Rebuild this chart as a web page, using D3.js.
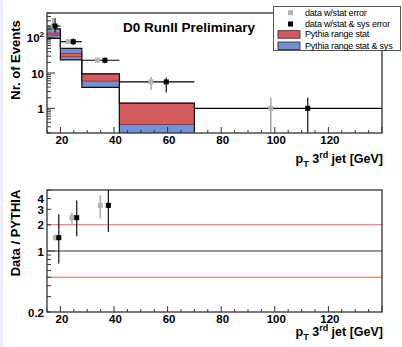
<!DOCTYPE html>
<meta charset="utf-8">
<script src="https://d3js.org/d3.v7.min.js"></script>
<style>
  body { margin: 0; background: #fff; }
  text { font-family: "Liberation Sans", Arial, sans-serif; }
</style>
<div id="chart"></div>
<script>
// bins of pT of the 3rd jet
const binEdges = [15, 20, 28, 42, 70, 140];

// data points (gray = stat only, black = stat & sys), drawn slightly apart
const dataXStat = [17.2, 22.9, 33.8, 53.8, 98.5];
const dataXSys = [18.0, 24.8, 36.6, 59.5, 112.3];
const dataY = [214, 77, 23, 5.6, 1.0];
const statLo = [140, 68, 20, 3.3, 0.05];
const statHi = [360, 88, 26, 7.7, 2.0];
const sysLo = [140, 62, 19, 2.8, 0.05];
const sysHi = [360, 95, 27, 7.5, 2.0];

// pythia ranges per bin
const blueLo = [96, 23.4, 3.9, 0.1, 0.02];
const blueHi = [177, 50, 9.4, 1.4, 0.1];
const redLo = [118, 29, 5.9, 0.35, 0.03];
const redHi = [135, 36, 9.4, 1.4, 0.08];

// ratio data / pythia
const ratioXStat = [18.2, 24.3, 34.9];
const ratioXSys = [19.4, 26.1, 37.9];
const ratioY = [1.42, 2.41, 3.33];
const ratioStatLo = [1.33, 2.07, 2.36];
const ratioStatHi = [1.55, 2.77, 4.33];
const ratioSysLo = [0.72, 1.48, 1.65];
const ratioSysHi = [2.63, 3.8, 6];
const ratioLines = [0.5, 1, 2];

const topTicks = [1, 10, 100];
const ratioTicks = [0.2, 1, 2, 3, 4];
const xTicks = [20, 40, 60, 80, 100, 120];

const W = 402, H = 347;
const L = 47, R = 382;
const svg = d3.select("#chart").append("svg").attr("width", W).attr("height", H);

svg.append("rect").attr("x", 0).attr("y", 0).attr("width", 3).attr("height", H).attr("fill", "#eeeef8");

const x = d3.scaleLinear().domain([15, 140]).range([L, R]);
const yTop = d3.scaleLog().domain([0.2, 500]).range([133, 13]);
const yBot = d3.scaleLog().domain([0.2, 5]).range([312, 190]);

const blue = "#7192d2", red = "#d45c60";

function clip(id, y0, y1) {
  svg.append("clipPath").attr("id", id).append("rect")
    .attr("x", L).attr("y", y0).attr("width", R - L).attr("height", y1 - y0);
}
clip("cTop", 13, 133);
clip("cBot", 190, 312);

// ---------- top pad ----------
const gTop = svg.append("g").attr("clip-path", "url(#cTop)");
const bins = d3.range(binEdges.length - 1);

gTop.selectAll(".blue").data(bins).join("rect")
  .attr("x", i => x(binEdges[i])).attr("width", i => x(binEdges[i + 1]) - x(binEdges[i]))
  .attr("y", i => yTop(blueHi[i])).attr("height", i => yTop(blueLo[i]) - yTop(blueHi[i]))
  .attr("fill", blue);
gTop.selectAll(".red").data(bins).join("rect")
  .attr("x", i => x(binEdges[i])).attr("width", i => x(binEdges[i + 1]) - x(binEdges[i]))
  .attr("y", i => yTop(redHi[i])).attr("height", i => yTop(redLo[i]) - yTop(redHi[i]))
  .attr("fill", red).attr("stroke", "#9a2a30").attr("stroke-width", 0.8);

function stepPts(vals) {
  const pts = [];
  bins.forEach(i => { pts.push([binEdges[i], vals[i]]); pts.push([binEdges[i + 1], vals[i]]); });
  return pts;
}
const stepLine = d3.line().x(d => x(d[0])).y(d => yTop(d[1]));
[blueHi, blueLo].forEach(v => {
  gTop.append("path").attr("d", stepLine(stepPts(v)))
    .attr("fill", "none").attr("stroke", "#111").attr("stroke-width", 1.2);
});

// x error bars
gTop.selectAll(".xerr").data(bins).join("line")
  .attr("x1", i => x(binEdges[i])).attr("x2", i => x(binEdges[i + 1]))
  .attr("y1", i => yTop(dataY[i])).attr("y2", i => yTop(dataY[i]))
  .attr("stroke", "#000").attr("stroke-width", 1.2);
// gray points
gTop.selectAll(".gerr").data(bins).join("line")
  .attr("x1", i => x(dataXStat[i])).attr("x2", i => x(dataXStat[i]))
  .attr("y1", i => yTop(statLo[i])).attr("y2", i => yTop(statHi[i]))
  .attr("stroke", "#aaa").attr("stroke-width", 1.6);
gTop.selectAll(".gpt").data(bins).join("rect")
  .attr("x", i => x(dataXStat[i]) - 2.5).attr("y", i => yTop(dataY[i]) - 2.5)
  .attr("width", 5).attr("height", 5).attr("fill", "#b4b4b4");
// black points
gTop.selectAll(".berr").data(bins).join("line")
  .attr("x1", i => x(dataXSys[i])).attr("x2", i => x(dataXSys[i]))
  .attr("y1", i => yTop(sysLo[i])).attr("y2", i => yTop(sysHi[i]))
  .attr("stroke", "#111").attr("stroke-width", 1.2);
gTop.selectAll(".bpt").data(bins).join("rect")
  .attr("x", i => x(dataXSys[i]) - 2.5).attr("y", i => yTop(dataY[i]) - 2.5)
  .attr("width", 5).attr("height", 5).attr("fill", "#000");

// ---------- bottom pad ----------
const gBot = svg.append("g").attr("clip-path", "url(#cBot)");
gBot.selectAll(".rl").data(ratioLines).join("line")
  .attr("x1", L).attr("x2", R).attr("y1", d => yBot(d)).attr("y2", d => yBot(d))
  .attr("stroke", d => d === 1 ? "#333" : "#e06464").attr("stroke-width", d => d === 1 ? 1.1 : 1.2);
const rIdx = d3.range(ratioY.length);
gBot.selectAll(".rg").data(rIdx).join("line")
  .attr("x1", i => x(ratioXStat[i])).attr("x2", i => x(ratioXStat[i]))
  .attr("y1", i => yBot(ratioStatLo[i])).attr("y2", i => yBot(ratioStatHi[i]))
  .attr("stroke", "#aaa").attr("stroke-width", 1.6);
gBot.selectAll(".rgp").data(rIdx).join("rect")
  .attr("x", i => x(ratioXStat[i]) - 2.5).attr("y", i => yBot(ratioY[i]) - 2.5)
  .attr("width", 5).attr("height", 5).attr("fill", "#b4b4b4");
gBot.selectAll(".rb").data(rIdx).join("line")
  .attr("x1", i => x(ratioXSys[i])).attr("x2", i => x(ratioXSys[i]))
  .attr("y1", i => yBot(ratioSysLo[i])).attr("y2", i => yBot(ratioSysHi[i]))
  .attr("stroke", "#111").attr("stroke-width", 1.2);
gBot.selectAll(".rbp").data(rIdx).join("rect")
  .attr("x", i => x(ratioXSys[i]) - 2.5).attr("y", i => yBot(ratioY[i]) - 2.5)
  .attr("width", 5).attr("height", 5).attr("fill", "#000");

// ---------- frames and axes ----------
function frame(y0, y1) {
  svg.append("rect").attr("x", L).attr("y", y0).attr("width", R - L).attr("height", y1 - y0)
    .attr("fill", "none").attr("stroke", "#333").attr("stroke-width", 1.3);
}
frame(13, 133);
frame(190, 312);

function xAxis(yb, labOff, titleOff) {
  const minor = d3.range(15, 140.1, 5);
  svg.append("g").selectAll("line").data(minor).join("line")
    .attr("x1", d => x(d)).attr("x2", d => x(d))
    .attr("y1", yb).attr("y2", d => yb - (d % 20 === 0 ? 6 : 3))
    .attr("stroke", "#333").attr("stroke-width", 1);
  svg.append("g").selectAll("text").data(xTicks).join("text")
    .attr("x", d => x(d) + 1.5).attr("y", yb + labOff)
    .attr("text-anchor", "middle").attr("font-size", 11.5).attr("font-weight", "bold")
    .text(d => d);
  const t = svg.append("text").attr("x", 383).attr("y", yb + titleOff)
    .attr("text-anchor", "end").attr("font-size", 12.5).attr("font-weight", "bold");
  t.append("tspan").text("p");
  t.append("tspan").attr("dy", 4).attr("font-size", 9).text("T");
  t.append("tspan").attr("dy", -4).text(" 3");
  t.append("tspan").attr("dy", -5).attr("font-size", 9).text("rd");
  t.append("tspan").attr("dy", 5).text(" jet [GeV]");
}
xAxis(133, 11, 30);
xAxis(312, 10.5, 24);

function yTicksLog(scale, lo, hi, majors) {
  const all = [];
  for (let e = -1; e <= 3; e++) for (let m = 1; m <= 9; m++) {
    const v = m * Math.pow(10, e);
    if (v >= lo - 1e-9 && v <= hi + 1e-9) all.push(v);
  }
  svg.append("g").selectAll("line").data(all).join("line")
    .attr("x1", L).attr("x2", d => L + (majors.includes(d) ? 8 : 4))
    .attr("y1", d => scale(d)).attr("y2", d => scale(d))
    .attr("stroke", "#333").attr("stroke-width", 1);
}
yTicksLog(yTop, 0.2, 500, [1, 10, 100]);
yTicksLog(yBot, 0.2, 5, [1]);

svg.append("g").selectAll("text").data(topTicks).join("text")
  .attr("x", 44).attr("y", d => yTop(d) + 4.5).attr("text-anchor", "end")
  .attr("font-size", 11.5).attr("font-weight", "bold")
  .each(function (d) {
    const t = d3.select(this);
    if (d === 100) {
      t.append("tspan").text("10");
      t.append("tspan").attr("dy", -5).attr("font-size", 8).text("2");
    } else t.text(d);
  });
svg.append("g").selectAll("text").data(ratioTicks).join("text")
  .attr("x", 44).attr("y", d => yBot(d) + 4.5).attr("text-anchor", "end")
  .attr("font-size", 11.5).attr("font-weight", "bold")
  .text(d => d);

svg.append("text").attr("transform", "translate(20,60) rotate(-90)")
  .attr("text-anchor", "middle").attr("font-size", 13).attr("font-weight", "bold")
  .text("Nr. of Events");
svg.append("text").attr("transform", "translate(20,233) rotate(-90)")
  .attr("text-anchor", "middle").attr("font-size", 13).attr("font-weight", "bold")
  .text("Data / PYTHIA");

svg.append("text").attr("x", 123).attr("y", 32)
  .attr("font-size", 13.5).attr("font-weight", "bold").text("D0 RunII Preliminary");

// ---------- legend ----------
const leg = svg.append("g");
leg.append("rect").attr("x", 273.5).attr("y", 6.5).attr("width", 127).attr("height", 44)
  .attr("fill", "#fff").attr("stroke", "#555").attr("stroke-width", 1);
const legItems = [
  { label: "data w/stat error", type: "pt", color: "#b4b4b4" },
  { label: "data w/stat & sys error", type: "pt", color: "#000" },
  { label: "Pythia range stat", type: "box", color: red },
  { label: "Pythia range stat & sys", type: "box", color: blue }
];
const legY = [12.7, 24, 34.2, 45.5];
legItems.forEach((d, i) => {
  if (d.type === "pt") {
    leg.append("rect").attr("x", 288).attr("y", legY[i] - 2.5).attr("width", 5).attr("height", 5).attr("fill", d.color);
  } else {
    leg.append("rect").attr("x", 278).attr("y", legY[i] - 3.5).attr("width", 22).attr("height", 7.5)
      .attr("fill", d.color).attr("stroke", "#222").attr("stroke-width", 0.8);
  }
  leg.append("text").attr("x", 305).attr("y", legY[i] + 3)
    .attr("font-family", "'Liberation Sans Narrow', 'Liberation Sans', sans-serif")
    .attr("font-size", 9).attr("letter-spacing", -0.2).text(d.label);
});
</script>
